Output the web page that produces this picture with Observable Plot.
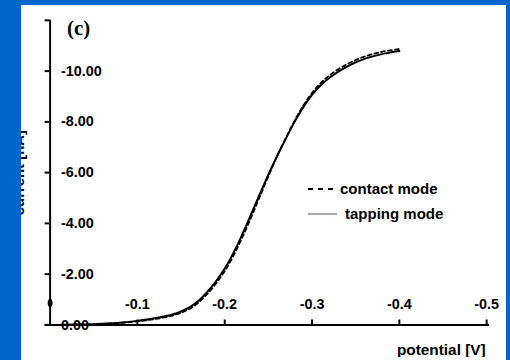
<!DOCTYPE html>
<html>
<head>
<meta charset="utf-8">
<script src="https://cdn.jsdelivr.net/npm/d3@7"></script>
<script src="https://cdn.jsdelivr.net/npm/@observablehq/plot@0.6"></script>
<style>
  html, body { margin: 0; padding: 0; }
  body { width: 510px; height: 360px; background: #0066cc; overflow: hidden; position: relative; font-family: "Liberation Sans", Arial, sans-serif; }
  #panel { position: absolute; left: 21px; top: 5px; width: 485px; height: 355px; background: #fff; overflow: hidden; }
  #chart { position: absolute; left: -21px; top: -5px; }
  #legend { position: absolute; left: 287px; top: 171px; font-weight: bold; font-size: 15px; color: #000; line-height: 25px; }
  #legend div { display: flex; align-items: center; white-space: nowrap; }
</style>
</head>
<body>
<div id="panel">
  <div id="chart"></div>
  <div id="legend"></div>
</div>
<script>
// potential [V]
const potential = [-0.01, -0.02, -0.04, -0.06, -0.08, -0.10, -0.12, -0.14, -0.15, -0.16, -0.17, -0.18, -0.19, -0.20, -0.21, -0.22, -0.23, -0.24, -0.25, -0.26, -0.27, -0.28, -0.29, -0.30, -0.31, -0.32, -0.34, -0.36, -0.38, -0.40];
// current [nA], tapping mode (solid)
const tapping = [0, -0.01, -0.02, -0.05, -0.09, -0.16, -0.26, -0.41, -0.53, -0.70, -0.95, -1.30, -1.72, -2.22, -2.84, -3.56, -4.34, -5.14, -5.92, -6.66, -7.34, -8.00, -8.58, -9.06, -9.44, -9.74, -10.18, -10.48, -10.67, -10.79];
// current [nA], contact mode (dashed)
const contact = [0, -0.01, -0.02, -0.04, -0.08, -0.14, -0.23, -0.37, -0.48, -0.64, -0.88, -1.22, -1.63, -2.12, -2.73, -3.44, -4.22, -5.04, -5.86, -6.64, -7.36, -8.04, -8.64, -9.14, -9.53, -9.83, -10.27, -10.57, -10.76, -10.87];

const seriesNames = ["contact mode", "tapping mode"];
const xTicks = [-0.1, -0.2, -0.3, -0.4, -0.5];
const xTickLabels = ["-0.1", "-0.2", "-0.3", "-0.4", "-0.5"];
const yTicks = [-12, -10, -8, -6, -4, -2, 0];
const yLabelTicks = [-10, -8, -6, -4, -2, 0];
const yTickLabels = ["-10.00", "-8.00", "-6.00", "-4.00", "-2.00", "0.00"];
const markerPoints = [{x: 0, y: -0.86}];
const panelLabel = "(c)";
const xTitle = "potential [V]";
const yTitle = "current [nA]";

const tappingData = potential.map((v, i) => ({v, c: tapping[i]}));
const contactData = potential.map((v, i) => ({v, c: contact[i]}));

const ellipse = {
  draw(ctx) {
    const rx = 2.5, ry = 4.4, k = 0.5523;
    ctx.moveTo(0, -ry);
    ctx.bezierCurveTo(k * rx, -ry, rx, -k * ry, rx, 0);
    ctx.bezierCurveTo(rx, k * ry, k * rx, ry, 0, ry);
    ctx.bezierCurveTo(-k * rx, ry, -rx, k * ry, -rx, 0);
    ctx.bezierCurveTo(-rx, -k * ry, -k * rx, -ry, 0, -ry);
    ctx.closePath();
  }
};

const chart = Plot.plot({
  width: 510,
  height: 360,
  marginLeft: 50,
  marginRight: 20,
  marginTop: 20,
  marginBottom: 33,
  style: {background: "transparent", fontFamily: "'Liberation Sans', Arial, sans-serif", fontSize: "14px", fontWeight: "bold", color: "#000"},
  x: {domain: [0, -0.5], label: null},
  y: {domain: [0, -12], label: null},
  marks: [
    // y axis: ticks to the left, labels to the right of the axis line
    Plot.axisY({ticks: yTicks, tickSize: 5, tickFormat: () => "", strokeWidth: 2}),
    Plot.axisY({ticks: yLabelTicks, tickSize: 0, tickPadding: 0, textAnchor: "start", dx: 11, tickFormat: (d) => yTickLabels[yLabelTicks.indexOf(d)], fill: "#000", fontSize: 14.5}),
    // x axis: ticks upward, labels above the axis line
    Plot.axisX({ticks: xTicks, tickSize: 5, dy: -5, tickFormat: () => "", strokeWidth: 2}),
    Plot.axisX({ticks: xTicks, tickSize: 0, tickPadding: 0, lineAnchor: "middle", dy: -21, tickFormat: (d) => xTickLabels[xTicks.indexOf(d)], fill: "#000", fontSize: 14.5}),
    Plot.ruleX([0], {stroke: "#000", strokeWidth: 2}),
    Plot.ruleY([0], {stroke: "#000", strokeWidth: 2, insetLeft: -5, insetRight: -3}),
    Plot.dot(markerPoints, {x: "x", y: "y", symbol: ellipse, fill: "#000", stroke: "none"}),
    Plot.line(contactData, {x: "v", y: "c", stroke: "#000", strokeWidth: 1.8, strokeDasharray: "4,3", curve: "catmull-rom"}),
    Plot.line(tappingData, {x: "v", y: "c", stroke: "#000", strokeWidth: 2, curve: "catmull-rom"}),
    Plot.text([panelLabel], {text: (d) => d, frameAnchor: "top-left", dx: 17, dy: 8, textAnchor: "start", lineAnchor: "middle", fontFamily: "'Liberation Serif', 'Times New Roman', serif", fontSize: 21, fontWeight: "bold", fill: "#000"}),
    Plot.text([xTitle], {text: (d) => d, frameAnchor: "bottom-right", dx: -1, dy: 25, textAnchor: "end", lineAnchor: "middle", fontSize: 15.5, fill: "#000"}),
    Plot.text([yTitle], {text: (d) => d, frameAnchor: "left", dx: -26, rotate: -90, textAnchor: "middle", lineAnchor: "bottom", fontSize: 15, fill: "#000"})
  ]
});
document.getElementById("chart").appendChild(chart);

// legend (HTML, positioned over the plot)
const legend = document.getElementById("legend");
seriesNames.forEach((name, i) => {
  const row = document.createElement("div");
  const dashed = i === 0;
  const w = dashed ? 26 : 29;
  const gap = dashed ? 6 : 8;
  row.innerHTML = `<svg width="${w}" height="6" style="margin-right:${gap}px"><line x1="0" y1="3" x2="${w}" y2="3" stroke="${dashed ? "#000" : "#555"}" stroke-width="${dashed ? 2 : 1}" ${dashed ? 'stroke-dasharray="5,5"' : ""}/></svg><span>${name}</span>`;
  legend.appendChild(row);
});
</script>
</body>
</html>
